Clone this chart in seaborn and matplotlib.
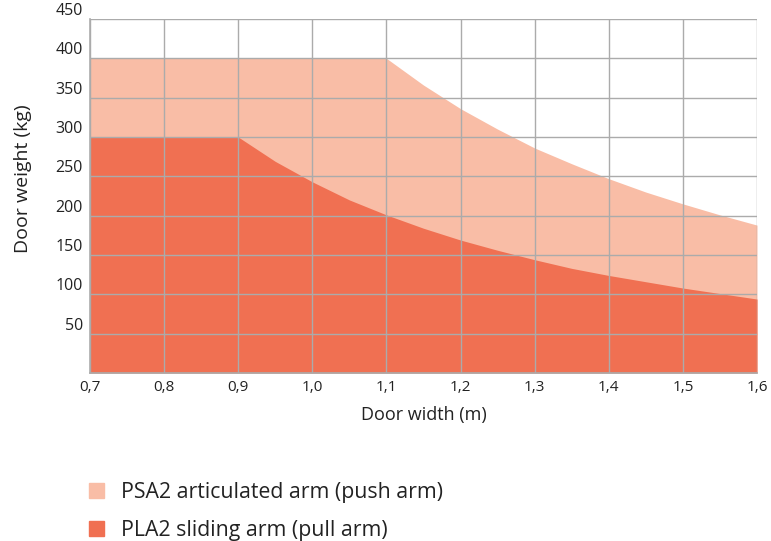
import matplotlib
matplotlib.use("Agg")
import matplotlib.pyplot as plt
import seaborn as sns
import pandas as pd
from matplotlib.patches import Patch

# door width (m) and max door weight (kg)
width_m = [0.70, 0.75, 0.80, 0.85, 0.90, 0.95, 1.00, 1.05, 1.10, 1.15,
           1.20, 1.25, 1.30, 1.35, 1.40, 1.45, 1.50, 1.55, 1.60]
psa2_kg = [400, 400, 400, 400, 400, 400, 400, 400, 400, 366,
           336, 310, 286, 266, 247, 230, 215, 201, 188]
pla2_kg = [300, 300, 300, 300, 300, 269, 243, 220, 201, 184,
           169, 156, 144, 133, 124, 116, 108, 101, 94]
series_names = ["PSA2 articulated arm (push arm)", "PLA2 sliding arm (pull arm)"]
x_ticks = [0.7, 0.8, 0.9, 1.0, 1.1, 1.2, 1.3, 1.4, 1.5, 1.6]
y_ticks = [50, 100, 150, 200, 250, 300, 350, 400, 450]

light = "#F9BDA6"
dark = "#F07052"
grid_col = "#ABABAB"
text_col = "#222222"

sns.set_theme(style="whitegrid")
plt.rcParams["font.family"] = ["Open Sans", "DejaVu Sans"]

df = pd.DataFrame({"width": width_m, "PSA2": psa2_kg, "PLA2": pla2_kg})

fig = plt.figure(figsize=(7.71, 5.41), dpi=100)
ax = fig.add_axes([90 / 771, 1 - 373 / 541, 667 / 771, 354 / 541])

sns.lineplot(data=df, x="width", y="PSA2", ax=ax, color=light, linewidth=0)
sns.lineplot(data=df, x="width", y="PLA2", ax=ax, color=dark, linewidth=0)
ax.fill_between(df["width"], 0, df["PSA2"], color=light, linewidth=0, zorder=1)
ax.fill_between(df["width"], 0, df["PLA2"], color=dark, linewidth=0, zorder=1.1)

ax.set_xlim(0.7, 1.6)
ax.set_ylim(0, 450)
ax.set_xticks(x_ticks)
ax.set_xticklabels([f"{v:.1f}".replace(".", ",") for v in x_ticks], fontsize=11, color=text_col)
ax.set_yticks(y_ticks)
ax.set_yticklabels([str(v) for v in y_ticks], fontsize=11.5, color=text_col)
for lab in ax.get_yticklabels():
    lab.set_va("bottom")
ax.tick_params(axis="x", pad=5, length=0)
ax.tick_params(axis="y", pad=5, length=0)

ax.set_axisbelow(False)
ax.grid(True, color=grid_col, linewidth=1.0, zorder=2)
for side in ["top", "right"]:
    ax.spines[side].set_visible(False)
for side in ["left", "bottom"]:
    ax.spines[side].set_color(grid_col)
    ax.spines[side].set_linewidth(1.2)
    ax.spines[side].set_zorder(3)

ax.set_xlabel("Door width (m)", fontsize=13, color=text_col, labelpad=8)
ax.set_ylabel("Door weight (kg)", fontsize=14, color=text_col)
ax.yaxis.set_label_coords(-0.087, 0.55)
ax.set_facecolor("white")

handles = [Patch(color=light), Patch(color=dark)]
fig.legend(handles, series_names, loc="lower left", bbox_to_anchor=(0.091, -0.036),
           frameon=False, fontsize=15.3, handlelength=0.7, handleheight=0.7,
           handletextpad=0.8, labelspacing=0.8, labelcolor=text_col)

fig.savefig("out.png", dpi=100, facecolor="white")
